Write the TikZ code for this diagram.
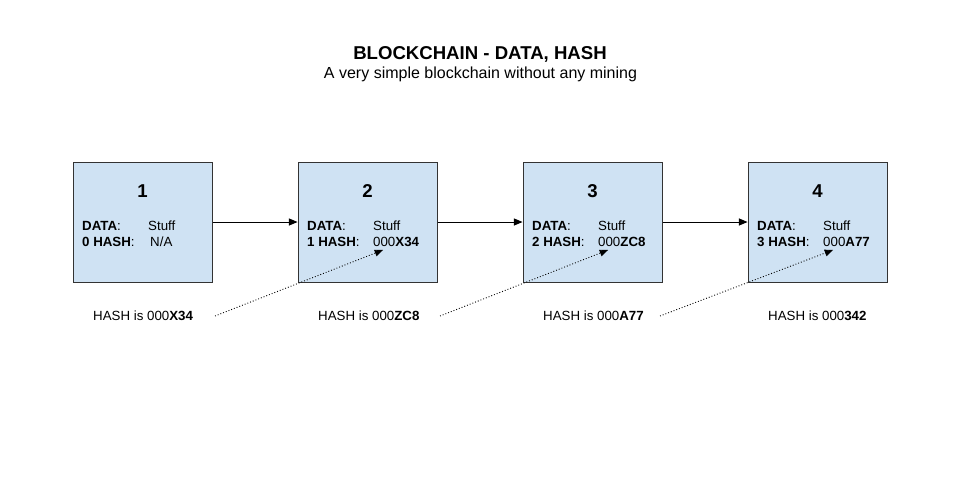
\documentclass[tikz,border=0pt]{standalone}
\usepackage{fontspec}
\setmainfont{Liberation Sans}
\usetikzlibrary{arrows}
\definecolor{blockfill}{HTML}{CFE2F3}
\definecolor{blockline}{HTML}{333333}

\begin{document}
\begin{tikzpicture}[x=1pt,y=-1pt,>=triangle 45,
    block/.style={shape=rectangle,draw=blockline,fill=blockfill,line width=1pt,minimum width=139pt,minimum height=120pt},
    num/.style={anchor=base,inner sep=0pt,font=\fontsize{18.6}{22}\selectfont\bfseries},
    txt/.style={anchor=base west,inner sep=0pt,font=\fontsize{13.3}{16}\selectfont},
    link/.style={->,line width=1pt},
    hashlink/.style={->,dotted,line width=0.9pt}]
    \useasboundingbox (0,0) rectangle (958,480);
    % title
    \node[anchor=base,inner sep=0pt,font=\fontsize{18.6}{22}\selectfont\bfseries] (title) at (480,59) {BLOCKCHAIN - DATA, HASH};
    \node[anchor=base,inner sep=0pt,font=\fontsize{16}{19}\selectfont] (subtitle) at (480.5,78) {A very simple blockchain without any mining};
    % blocks
    \node[block] (b1) at (142.5,222) {};
    \node[block] (b2) at (367.5,222) {};
    \node[block] (b3) at (592.5,222) {};
    \node[block] (b4) at (817.5,222) {};
    \node[num] (n1) at (142.5,197) {1};
    \node[num] (n2) at (367.5,197) {2};
    \node[num] (n3) at (592.5,197) {3};
    \node[num] (n4) at (817.5,197) {4};
    \node[txt] (d1) at (82,230) {\textbf{DATA}:};
    \node[txt] (d2) at (307,230) {\textbf{DATA}:};
    \node[txt] (d3) at (532,230) {\textbf{DATA}:};
    \node[txt] (d4) at (757,230) {\textbf{DATA}:};
    \node[txt] (s1) at (148,230) {Stuff};
    \node[txt] (s2) at (373,230) {Stuff};
    \node[txt] (s3) at (598,230) {Stuff};
    \node[txt] (s4) at (823,230) {Stuff};
    \node[txt] (p1) at (82,246) {\textbf{0 HASH}:};
    \node[txt] (p2) at (307,246) {\textbf{1 HASH}:};
    \node[txt] (p3) at (532,246) {\textbf{2 HASH}:};
    \node[txt] (p4) at (757,246) {\textbf{3 HASH}:};
    \node[txt] (v1) at (150,246) {N/A};
    \node[txt] (v2) at (373,246) {000\textbf{X34}};
    \node[txt] (v3) at (598,246) {000\textbf{ZC8}};
    \node[txt] (v4) at (823,246) {000\textbf{A77}};
    % hashes
    \node[txt] (h1) at (93,320) {HASH is 000\textbf{X34}};
    \node[txt] (h2) at (318,320) {HASH is 000\textbf{ZC8}};
    \node[txt] (h3) at (543,320) {HASH is 000\textbf{A77}};
    \node[txt] (h4) at (768,320) {HASH is 000\textbf{342}};
    \path[link] (b1.east) edge node {} (b2.west);
    \path[link] (b2.east) edge node {} (b3.west);
    \path[link] (b3.east) edge node {} (b4.west);
    \coordinate (f1) at (215,316);
    \coordinate (f2) at (440,316);
    \coordinate (f3) at (660,316);
    \coordinate (t2) at (383,250);
    \coordinate (t3) at (608,250);
    \coordinate (t4) at (833,250);
    \path[hashlink] (f1) edge node {} (t2);
    \path[hashlink] (f2) edge node {} (t3);
    \path[hashlink] (f3) edge node {} (t4);
\end{tikzpicture}
\end{document}
